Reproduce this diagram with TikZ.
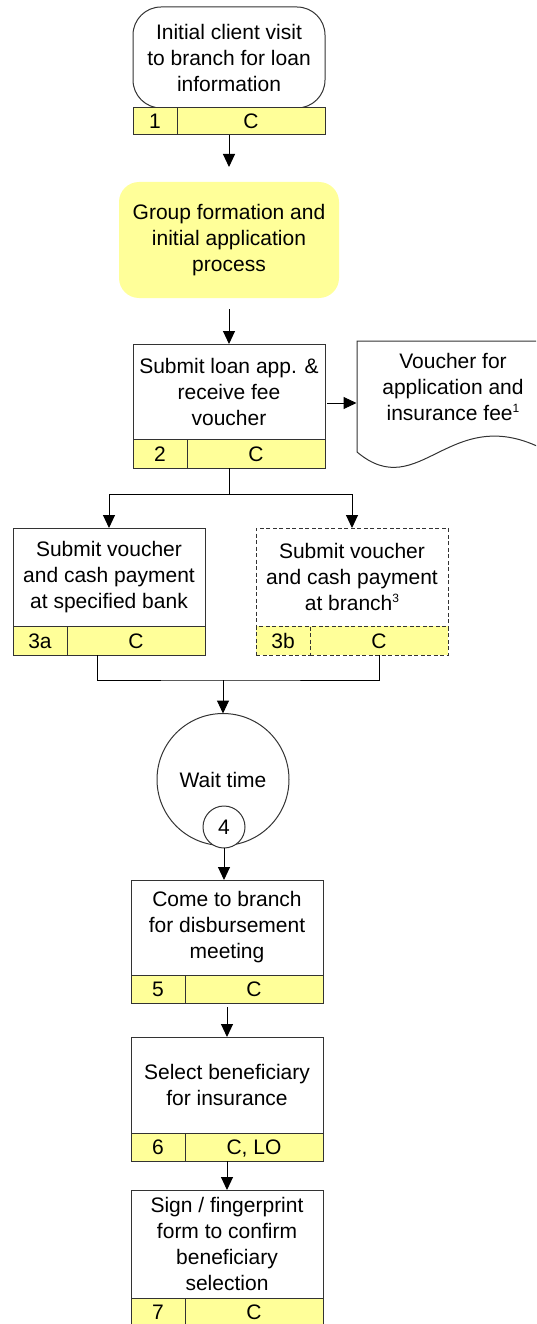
\documentclass[tikz,border=0pt]{standalone}
\usepackage{fontspec}
\setmainfont{Liberation Sans}
\usetikzlibrary{arrows.meta, positioning, calc}
\definecolor{barYellow}{HTML}{FFFF99}
\definecolor{lineGray}{HTML}{333333}
\newcommand{\fnmark}[1]{\raisebox{8pt}{\fontsize{12}{12}\selectfont #1}}

\begin{document}
\begin{tikzpicture}[x=1pt, y=-1pt,
    every node/.style={font=\fontsize{21}{26}\selectfont, inner sep=0pt, outer sep=0pt},
    taskbox/.style={draw=lineGray, line width=1pt, fill=white, align=center, minimum width=192pt},
    barcell/.style={draw=lineGray, line width=1pt, fill=barYellow, minimum height=28pt, text height=15pt, text depth=0pt, anchor=north west},
    dashedge/.style={dash pattern=on 4pt off 2.5pt},
    joinline/.style={draw=black, line width=1pt},
    flowarrow/.style={joinline, -{Triangle[length=13pt, width=12pt]}}]
  \clip (0,0) rectangle (536,1324);

  % step 1
  \node[taskbox, rounded corners=28pt, minimum height=101pt] (t1) at (229,57.5) {Initial client visit\\to branch for loan\\information};
  \node[barcell, minimum width=44pt, minimum height=27pt] (n1) at (t1.south west) {1};
  \node[barcell, minimum width=148pt, minimum height=27pt] (w1) at (n1.north east) {C};

  % group process
  \node[fill=barYellow, rounded corners=20pt, minimum width=220pt, minimum height=116pt, align=center] (grp) at (229,240) {Group formation and\\initial application\\process};

  % step 2 and voucher
  \node[taskbox, minimum height=95pt] (t2) at (229,391.5) {Submit loan app. \&\\receive fee\\voucher};
  \node[barcell, minimum width=54pt, minimum height=29pt] (n2) at (t2.south west) {2};
  \node[barcell, minimum width=138pt, minimum height=29pt] (w2) at (n2.north east) {C};
  \node[minimum width=193pt, align=center] (doc) at (453,387) {Voucher for\\application and\\insurance fee\fnmark{1}};
  \draw[draw=lineGray, line width=1pt] (357,452) -- (357,341) -- (545,341) -- (545,450) .. controls (450,400) and (420,505) .. (357,452);

  % step 3a / 3b
  \node[taskbox, minimum height=98pt] (t3a) at (109,577) {Submit voucher\\and cash payment\\at specified bank};
  \node[barcell, minimum width=54pt, minimum height=29pt] (n3a) at (t3a.south west) {3a};
  \node[barcell, minimum width=138pt, minimum height=29pt] (w3a) at (n3a.north east) {C};
  \node[taskbox, dashedge, minimum height=98pt] (t3b) at (352,577) {Submit voucher\\and cash payment\\at branch\fnmark{3}};
  \node[barcell, dashedge, minimum width=54pt, minimum height=29pt] (n3b) at (t3b.south west) {3b};
  \node[barcell, dashedge, minimum width=138pt, minimum height=29pt] (w3b) at (n3b.north east) {C};

  % wait time
  \node[circle, draw=lineGray, line width=1pt, minimum size=132pt] (wt) at (223,779.5) {Wait time};
  \node[circle, draw=lineGray, line width=1pt, fill=white, minimum size=42pt] (wn) at (224,827) {4};

  % steps 5 - 7
  \node[taskbox, minimum height=95pt] (t5) at (227,927.5) {Come to branch\\for disbursement\\meeting};
  \node[barcell, minimum width=54pt] (n5) at (t5.south west) {5};
  \node[barcell, minimum width=138pt] (w5) at (n5.north east) {C};
  \node[taskbox, minimum height=96pt] (t6) at (227,1085) {Select beneficiary\\for insurance};
  \node[barcell, minimum width=54pt] (n6) at (t6.south west) {6};
  \node[barcell, minimum width=138pt] (w6) at (n6.north east) {C, LO};
  \node[taskbox, minimum height=108pt] (t7) at (227,1244) {Sign / fingerprint\\form to confirm\\beneficiary\\selection};
  \node[barcell, minimum width=54pt] (n7) at (t7.south west) {7};
  \node[barcell, minimum width=138pt] (w7) at (n7.north east) {C};

  % connectors
  \draw[flowarrow, shorten >=15pt] (t1.south |- w1.south) -- (grp.north);
  \draw[flowarrow, shorten <=11pt] (grp.south) -- (t2.north);
  \draw[flowarrow, shorten <=2pt] ([yshift=-11.5pt]t2.east) -- ([yshift=-11.5pt]t2.east -| doc.west);
  \draw[joinline] (t2.south |- w2.south) -- ++(0,26) coordinate (fork);
  \draw[flowarrow] (fork) -| (t3a.north);
  \draw[flowarrow] (fork) -| (t3b.north);
  \coordinate (join) at (223,680);
  \draw[joinline] ([xshift=30pt]w3a.south west) |- (join) -| (w3b.south);
  \draw[flowarrow] (join) -- (wt.north);
  \draw[flowarrow] (wn.south) -- (wn.south |- t5.north);
  \draw[flowarrow, shorten <=4pt] (t5.south |- w5.south) -- (t6.north);
  \draw[flowarrow] (t6.south |- w6.south) -- (t7.north);
\end{tikzpicture}
\end{document}
